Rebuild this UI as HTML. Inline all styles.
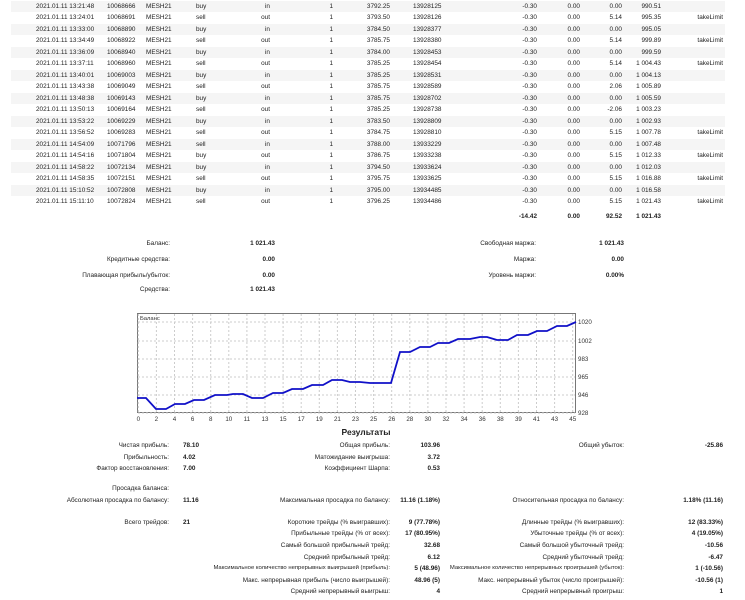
<!DOCTYPE html>
<html><head><meta charset="utf-8"><style>
body{margin:0;width:745px;height:600px;background:#fff;position:relative;overflow:hidden;font-family:"Liberation Sans",sans-serif;font-size:6.4px;color:#222}
.t{position:absolute;white-space:nowrap;line-height:9px}
.r{text-align:right}
.b{font-weight:bold}
.s{font-size:5.9px}
.row{position:absolute;left:11px;width:714px;height:11px}
</style></head><body>
<div id="tbl"></div>
<svg style="position:absolute;left:0;top:0" width="745" height="600">
<rect x="137.5" y="313.5" width="438" height="99" fill="#fff" stroke="#777" stroke-width="1"/>
<g id="grid" stroke="#ccc" stroke-dasharray="2,2" stroke-width="1"></g>
<polyline fill="none" stroke="#1010c8" stroke-width="1.8" points="137,398 146,398 156,409 166,409 175,404 185,404 194,400 204,400 215,395 227,395 233,394 243,394 252,398 263,398 273,393 283,393 292,389 303,389 312,385 323,385 332,380 342,380 350,382 360,382 370,383 380,383 391,383 400,352 410,352 420,347 430,347 438,343 449,343 458,339 470,339 480,337 487,337 497,340 508,340 517,335 528,335 537,331 547,331 557,326 567,326 576,322"/>
<g id="lbl" font-family="Liberation Sans,sans-serif" font-size="6.2" fill="#333"></g>
<text x="140" y="320" font-size="5.8" fill="#333" font-family="Liberation Sans,sans-serif">Баланс</text>
</svg>
<script>
var rows=[
["2021.01.11 13:21:48","10068666","buy","in","3792.25","13928125","0.00","990.51",""],
["2021.01.11 13:24:01","10068691","sell","out","3793.50","13928126","5.14","995.35","takeLimit"],
["2021.01.11 13:33:00","10068890","buy","in","3784.50","13928377","0.00","995.05",""],
["2021.01.11 13:34:49","10068922","sell","out","3785.75","13928380","5.14","999.89","takeLimit"],
["2021.01.11 13:36:09","10068940","buy","in","3784.00","13928453","0.00","999.59",""],
["2021.01.11 13:37:11","10068960","sell","out","3785.25","13928454","5.14","1 004.43","takeLimit"],
["2021.01.11 13:40:01","10069003","buy","in","3785.25","13928531","0.00","1 004.13",""],
["2021.01.11 13:43:38","10069049","sell","out","3785.75","13928589","2.06","1 005.89",""],
["2021.01.11 13:48:38","10069143","buy","in","3785.75","13928702","0.00","1 005.59",""],
["2021.01.11 13:50:13","10069164","sell","out","3785.25","13928738","-2.06","1 003.23",""],
["2021.01.11 13:53:22","10069229","buy","in","3783.50","13928809","0.00","1 002.93",""],
["2021.01.11 13:56:52","10069283","sell","out","3784.75","13928810","5.15","1 007.78","takeLimit"],
["2021.01.11 14:54:09","10071796","sell","in","3788.00","13933229","0.00","1 007.48",""],
["2021.01.11 14:54:16","10071804","buy","out","3786.75","13933238","5.15","1 012.33","takeLimit"],
["2021.01.11 14:58:22","10072134","buy","in","3794.50","13933624","0.00","1 012.03",""],
["2021.01.11 14:58:35","10072151","sell","out","3795.75","13933625","5.15","1 016.88","takeLimit"],
["2021.01.11 15:10:52","10072808","buy","in","3795.00","13934485","0.00","1 016.58",""],
["2021.01.11 15:11:10","10072824","sell","out","3796.25","13934486","5.15","1 021.43","takeLimit"]];
function L(x,y,s,c){return '<div class="t '+(c||'')+'" style="left:'+x+'px;top:'+y+'px">'+s+'</div>'}
function R(x,y,s,c){return '<div class="t r '+(c||'')+'" style="right:'+(745-x)+'px;top:'+y+'px">'+s+'</div>'}
var h='';
rows.forEach(function(r,i){var y=1+i*11.47;
if(i%2==0)h+='<div class="row" style="top:'+y+'px;background:#f5f5f5"></div>';
var ty=y+1;
h+=L(36,ty,r[0])+L(107,ty,r[1])+L(146,ty,'MESH21')+L(196,ty,r[2])+R(270,ty,r[3])+R(333,ty,'1')+R(390,ty,r[4])+L(413,ty,r[5])+R(537,ty,'-0.30')+R(580,ty,'0.00')+R(622,ty,r[6])+R(661,ty,r[7])+R(723,ty,r[8]);});
h+=R(537,212,'-14.42','b')+R(580,212,'0.00','b')+R(622,212,'92.52','b')+R(661,212,'1 021.43','b');
[[239,'Баланс:','1 021.43'],[255,'Кредитные средства:','0.00'],[271,'Плавающая прибыль/убыток:','0.00'],[285,'Средства:','1 021.43']].forEach(function(a){h+=R(170,a[0],a[1])+R(275,a[0],a[2],'b')});
[[239,'Свободная маржа:','1 021.43'],[255,'Маржа:','0.00'],[271,'Уровень маржи:','0.00%']].forEach(function(a){h+=R(536,a[0],a[1])+R(624,a[0],a[2],'b')});
h+='<div class="t b" style="left:316px;width:100px;text-align:center;top:427px;font-size:8.5px;line-height:11px">Результаты</div>';
var c1=[[441,'Чистая прибыль:','78.10'],[453,'Прибыльность:','4.02'],[464,'Фактор восстановления:','7.00'],[484,'Просадка баланса:',''],[496,'Абсолютная просадка по балансу:','11.16'],[518,'Всего трейдов:','21']];
c1.forEach(function(a){h+=R(169,a[0],a[1])+L(183,a[0],a[2],'b')});
var c2=[[441,'Общая прибыль:','103.96'],[453,'Матожидание выигрыша:','3.72'],[464,'Коэффициент Шарпа:','0.53'],[496,'Максимальная просадка по балансу:','11.16 (1.18%)'],[518,'Короткие трейды (% выигравших):','9 (77.78%)'],[529,'Прибыльные трейды (% от всех):','17 (80.95%)'],[541,'Самый большой прибыльный трейд:','32.68'],[553,'Средний прибыльный трейд:','6.12'],[564,'Максимальное количество непрерывных выигрышей (прибыль):','5 (48.96)','s'],[576,'Макс. непрерывная прибыль (число выигрышей):','48.96 (5)'],[587,'Средний непрерывный выигрыш:','4']];
c2.forEach(function(a){h+=R(390,a[0],a[1],a[3])+R(440,a[0],a[2],'b')});
var c3=[[441,'Общий убыток:','-25.86'],[496,'Относительная просадка по балансу:','1.18% (11.16)'],[518,'Длинные трейды (% выигравших):','12 (83.33%)'],[529,'Убыточные трейды (% от всех):','4 (19.05%)'],[541,'Самый большой убыточный трейд:','-10.56'],[553,'Средний убыточный трейд:','-6.47'],[564,'Максимальное количество непрерывных проигрышей (убыток):','1 (-10.56)','s'],[576,'Макс. непрерывный убыток (число проигрышей):','-10.56 (1)'],[587,'Средний непрерывный проигрыш:','1']];
c3.forEach(function(a){h+=R(624,a[0],a[1],a[3])+R(723,a[0],a[2],'b')});
document.getElementById('tbl').innerHTML=h;
var g='',l='';
var xs=[0,2,4,6,8,10,11,13,15,17,19,21,23,25,26,28,30,32,34,36,38,39,41,43,45];
xs.forEach(function(v,i){var x=138.3+i*18.1;g+='<line x1="'+x+'" y1="314" x2="'+x+'" y2="412"/>';l+='<text x="'+x+'" y="421" text-anchor="middle">'+v+'</text>';});
[[1020,322],[1002,341],[983,359],[965,377],[946,395],[928,413]].forEach(function(a){g+='<line x1="138" y1="'+a[1]+'" x2="575" y2="'+a[1]+'"/>';l+='<text x="578" y="'+(a[1]+2)+'">'+a[0]+'</text>';});
document.getElementById('grid').innerHTML=g;document.getElementById('lbl').innerHTML=l;
</script>
</body></html>
